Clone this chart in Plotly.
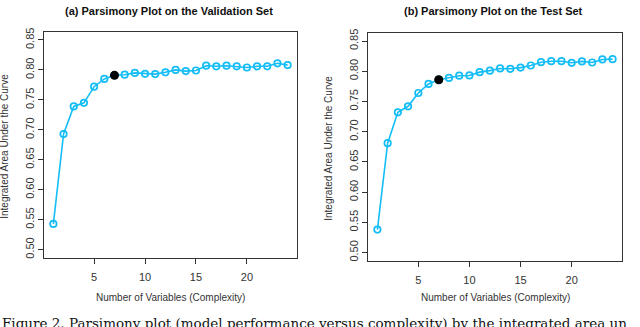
import plotly.graph_objects as go

W, H = 640, 327

n_vars = list(range(1, 25))
auc_valid = [0.543, 0.693, 0.739, 0.745, 0.772, 0.785, 0.791, 0.792, 0.795, 0.7935,
             0.793, 0.796, 0.800, 0.798, 0.799, 0.807, 0.806, 0.807, 0.806, 0.804,
             0.806, 0.806, 0.811, 0.808]
auc_test = [0.538, 0.681, 0.732, 0.742, 0.764, 0.779, 0.786, 0.789, 0.7926, 0.793,
            0.7985, 0.801, 0.8046, 0.804, 0.806, 0.8095, 0.815, 0.8166, 0.8166, 0.814,
            0.8163, 0.8145, 0.8195, 0.820]
best_k = 7
x_ticks = [5, 10, 15, 20]
y_ticks = [0.50, 0.55, 0.60, 0.65, 0.70, 0.75, 0.80, 0.85]

titles = ['(a) Parsimony Plot on the Validation Set', '(b) Parsimony Plot on the Test Set']
x_label = 'Number of Variables (Complexity)'
y_label = 'Integrated Area Under the Curve'
caption = 'Figure 2. Parsimony plot (model performance versus complexity) by the integrated area un'

BLUE = '#14bdf5'
SANS = 'Liberation Sans, Arial, sans-serif'


def px_x(p):
    return p / W


def px_y(p):
    return 1 - p / H


# plot boxes in pixels: left, right, top, bottom
boxes = [(44, 297, 28, 258), (368, 622, 29, 261)]

fig = go.Figure()
for i, (series, box) in enumerate(zip([auc_valid, auc_test], boxes)):
    sfx = '' if i == 0 else '2'
    fig.add_trace(go.Scatter(
        x=n_vars, y=series, mode='lines+markers', xaxis='x' + sfx, yaxis='y' + sfx,
        line={'color': BLUE, 'width': 1.6},
        marker={'symbol': 'circle-open', 'size': 6.5, 'color': BLUE, 'line': {'width': 1.7}},
        showlegend=False))
    fig.add_trace(go.Scatter(
        x=[best_k], y=[series[best_k - 1]], mode='markers', xaxis='x' + sfx, yaxis='y' + sfx,
        marker={'symbol': 'circle', 'size': 9, 'color': 'black'},
        showlegend=False))

    l, r, t, b = box
    axis_common = dict(showline=True, mirror=True, linecolor='#333', linewidth=1,
                       showgrid=False, zeroline=False, ticks='outside', ticklen=5,
                       tickcolor='#333', tickfont={'family': SANS, 'size': 11, 'color': '#333'})
    fig.update_layout(**{
        'xaxis' + sfx: dict(domain=[px_x(l), px_x(r)], range=[0.08, 24.92],
                            tickvals=x_ticks, anchor='y' + sfx, ticklabelstandoff=4,
                            **axis_common),
        'yaxis' + sfx: dict(domain=[px_y(b), px_y(t)], range=[0.486, 0.864],
                            tickvals=y_ticks, tickformat='.2f', tickangle=-90,
                            anchor='x' + sfx, **axis_common),
    })

    cx = (l + r) / 2
    fig.add_annotation(text='<b>' + titles[i] + '</b>', x=px_x(cx - 2), y=px_y(7),
                       xref='paper', yref='paper', showarrow=False,
                       xanchor='center', yanchor='middle',
                       font={'family': SANS, 'size': 11, 'color': '#111'})
    fig.add_annotation(text=x_label, x=px_x(cx), y=px_y(298),
                       xref='paper', yref='paper', showarrow=False,
                       xanchor='center', yanchor='middle',
                       font={'family': SANS, 'size': 10, 'color': '#333'})
    fig.add_annotation(text=y_label, x=px_x(l - 39), y=px_y((t + b) / 2 + 2),
                       xref='paper', yref='paper', showarrow=False, textangle=-90,
                       xanchor='center', yanchor='middle',
                       font={'family': SANS, 'size': 10, 'color': '#333'})

fig.add_annotation(text=caption, x=0, y=px_y(314), xref='paper', yref='paper',
                   xanchor='left', yanchor='top', showarrow=False,
                   font={'family': 'DejaVu Serif, serif', 'size': 13.5, 'color': '#111'})

fig.update_layout(width=W, height=H, margin={'l': 0, 'r': 0, 't': 0, 'b': 0},
                  paper_bgcolor='white', plot_bgcolor='white')

# the page body has a default 8px margin; drop it so the figure fills the window
fig.write_html('out.html', config={'displayModeBar': False},
               post_script="document.body.style.margin = '0';")
